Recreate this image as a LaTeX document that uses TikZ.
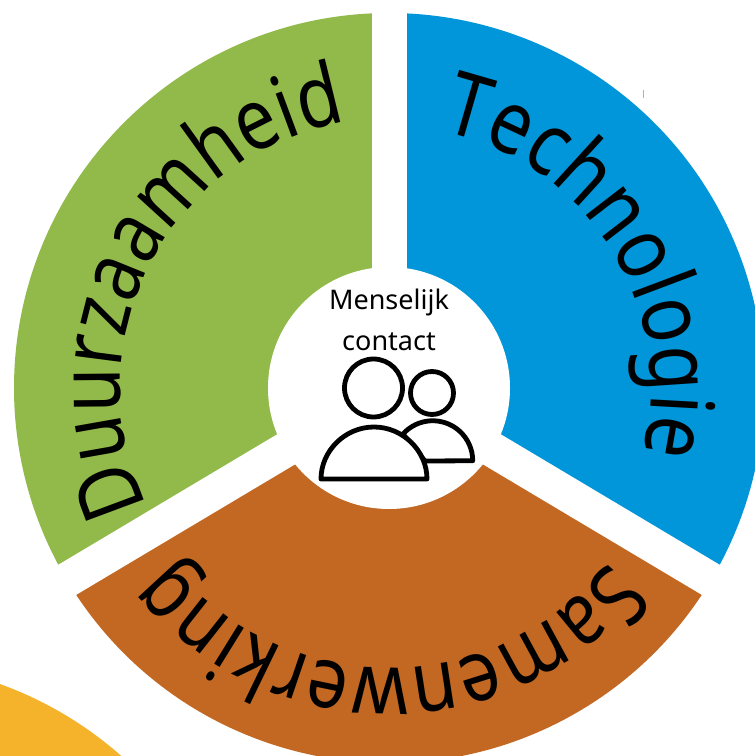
\documentclass[tikz,border=0pt]{standalone}
\usepackage{fontspec}
\setmainfont{Noto Sans}
\newfontfamily\arcfont[FakeStretch=0.84]{Noto Sans}
\usetikzlibrary{decorations.text}
\definecolor{wgreen}{HTML}{92BA4A}
\definecolor{wblue}{HTML}{0096D9}
\definecolor{wbrown}{HTML}{C26823}
\definecolor{wyellow}{HTML}{F5B32C}
\tikzset{
  gap/.style={draw=white,line width=35pt},
  icon/.style={draw=black,line width=4.8pt,fill=white,line join=round},
}
\newcommand{\arcword}[5]{% start angle, delta, radius, size, text
  \path[decorate,decoration={text along path,text align=center,text={|\arcfont\fontsize{#4}{#4}\selectfont|#5}}]
    ([shift={(#1:#3)}]c) arc[start angle=#1,delta angle=#2,radius=#3];}
\begin{document}
\begin{tikzpicture}[x=1pt,y=1pt]
\useasboundingbox (0,0) rectangle (755,756);
\clip (0,0) rectangle (755,756);
\coordinate (c) at (389,368);
\fill[white] (0,0) rectangle (755,756);
\fill[wyellow] (-127,-281) circle[radius=375];
\fill[wgreen] (c) -- ++(90:375) arc[start angle=90,end angle=210.8,radius=375] -- cycle;
\fill[wbrown] (c) -- ++(210.8:375) arc[start angle=210.8,end angle=329.2,radius=375] -- cycle;
\fill[wblue] (c) -- ++(329.2:375) arc[start angle=329.2,end angle=450,radius=375] -- cycle;
\coordinate (g1) at ([shift={(90:385)}]c);
\coordinate (g2) at ([shift={(210.8:385)}]c);
\coordinate (g3) at ([shift={(329.2:385)}]c);
\draw[gap] (c) -- (g1);
\draw[gap] (c) -- (g2);
\draw[gap] (c) -- (g3);
\fill[white] (c) circle[radius=121];
\fill[wblue!55] (642.5,658) rectangle (644,666);
\arcword{217.5}{-130}{269}{86}{Duurzaamheid}
\arcword{97}{-130}{262}{88}{Technologie}
\arcword{-15}{-150}{280}{86}{Samenwerking}
\node[font=\fontsize{27}{27}\selectfont,inner sep=0pt] (t1) at (389,454) {Menselijk};
\node[font=\fontsize{27}{27}\selectfont,inner sep=0pt] (t2) at (389,414.5) {contact};
\draw[icon] (403,322) arc[start angle=138,end angle=0,radius=40] -- (425,295) -- cycle;
\draw[icon] (432,363) circle[radius=21.5];
\draw[icon] (321,277) .. controls (321,305) and (345,329) .. (374,329) .. controls (403,329) and (427,305) .. (427,277) -- cycle;
\draw[icon] (373.5,368) circle[radius=29];
\end{tikzpicture}
\end{document}
